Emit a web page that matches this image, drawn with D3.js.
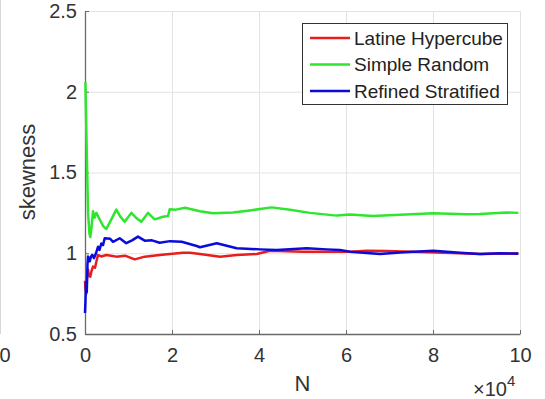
<!DOCTYPE html>
<html>
<head>
<meta charset="utf-8">
<script src="https://cdn.jsdelivr.net/npm/d3@7"></script>
<style>
  body { margin: 0; background: #fff; }
  svg { display: block; font-family: "Liberation Sans", Arial, sans-serif; }
</style>
</head>
<body>
<svg width="545" height="399"></svg>
<script>
// series (N, skewness)
var latinN   = [0,100,300,460,690,920,1220,1500,1840,2300,2640,2990,3750,4900,5980,7200,9200,11430,13720,17170,19540,22530,24140,26440,31040,34880,39470,42530,50190,56330,60920,64760,69360,77020,86210,90810,99620];
var latinSk  = [0.83,0.78,0.75,0.85,0.90,0.86,0.855,0.89,0.917,0.91,0.95,0.989,0.98,0.989,0.985,0.979,0.985,0.962,0.979,0.989,0.995,1.003,1.003,0.995,0.979,0.989,0.995,1.016,1.01,1.01,1.01,1.016,1.014,1.008,1.0,0.995,1.0];

var randomN  = [0,100,350,700,1030,1220,1500,1840,2180,2600,3370,4140,4900,6050,7200,8050,9120,10650,11720,12950,14480,16020,17930,19080,19470,20920,22990,26440,29430,34020,37930,42920,47130,51730,57860,60920,66210,72420,80010,87750,90810,96950,99620];
var randomSk = [2.06,2.05,1.70,1.25,1.12,1.10,1.16,1.26,1.22,1.25,1.21,1.17,1.15,1.21,1.27,1.23,1.195,1.25,1.22,1.195,1.25,1.21,1.226,1.231,1.272,1.27,1.282,1.26,1.247,1.252,1.265,1.284,1.27,1.25,1.233,1.24,1.231,1.238,1.247,1.241,1.243,1.252,1.25];

var stratN   = [0,100,230,410,570,690,1080,1380,1680,2070,2530,2990,3330,3750,4140,4530,5750,6440,7980,9490,10810,12180,13720,15400,17170,19540,22230,25680,26440,30280,34880,40230,44070,50970,55570,58620,60920,67820,72420,80080,86210,90810,95410,99620];
var stratSk  = [0.63,0.70,0.82,0.76,0.93,0.98,0.95,0.98,0.99,0.97,1.00,1.04,1.02,1.06,1.05,1.093,1.09,1.071,1.093,1.062,1.08,1.103,1.078,1.08,1.065,1.075,1.071,1.045,1.037,1.062,1.031,1.024,1.02,1.031,1.024,1.02,1.01,0.995,1.005,1.016,1.003,0.995,1.0,0.997];

var xTicks = [0,20000,40000,60000,80000,100000];
var yTicks = [0.5,1,1.5,2,2.5];
var legendNames = ['Latine Hypercube','Simple Random','Refined Stratified'];
var colors = ['#e81e1e','#2ee62e','#0a0adc'];

var svg = d3.select('svg');
var plotL = 85, plotR = 520, plotT = 11, plotB = 334;

var x = d3.scaleLinear().domain([0,100000]).range([plotL,plotR]);
var y = d3.scaleLinear().domain([0.5,2.5]).range([plotB,plotT]);

// faint edge of the neighbouring plot
svg.append('line').attr('x1',0.5).attr('x2',0.5).attr('y1',0).attr('y2',plotB)
    .attr('stroke','#d8d8d8');
svg.append('text').attr('x',5).attr('y',362).attr('text-anchor','middle')
    .attr('font-size',20).attr('fill','#333').text('0');

// grid
svg.append('g').attr('transform','translate(0,'+plotB+')')
    .call(d3.axisBottom(x).tickValues(xTicks.slice(1)).tickSize(-(plotB-plotT)).tickFormat(''))
    .call(function(g){ g.select('.domain').remove(); g.selectAll('line').attr('stroke','#e3e3e3'); });
svg.append('g').attr('transform','translate('+plotL+',0)')
    .call(d3.axisLeft(y).tickValues(yTicks.slice(1)).tickSize(-(plotR-plotL)).tickFormat(''))
    .call(function(g){ g.select('.domain').remove(); g.selectAll('line').attr('stroke','#e3e3e3'); });

// axes
var xAxis = svg.append('g').attr('transform','translate(0,'+plotB+')')
    .call(d3.axisBottom(x).tickValues(xTicks).tickSizeInner(-4).tickSizeOuter(0).tickPadding(14)
        .tickFormat(function(d){ return d/10000; }));
var yAxis = svg.append('g').attr('transform','translate('+plotL+',0)')
    .call(d3.axisLeft(y).tickValues(yTicks).tickSizeInner(-4).tickSizeOuter(0).tickPadding(8)
        .tickFormat(function(d){ return d; }));
[xAxis,yAxis].forEach(function(a){
    a.select('.domain').attr('stroke','#6a6a6a').attr('stroke-width',1.3);
    a.selectAll('line').attr('stroke','#6a6a6a');
    a.selectAll('text').attr('font-size',20).attr('fill','#333').attr('font-family','Liberation Sans, Arial, sans-serif');
});

// lines
var series = [[latinN,latinSk],[randomN,randomSk],[stratN,stratSk]];
var line = d3.line().x(function(d){ return x(d[0]); }).y(function(d){ return y(d[1]); });
series.forEach(function(s,i){
    var pts = s[0].map(function(n,j){ return [n, s[1][j]]; });
    svg.append('path').datum(pts).attr('d',line)
        .attr('fill','none').attr('stroke',colors[i]).attr('stroke-width',2.5)
        .attr('stroke-linejoin','round');
});

// labels
svg.append('text').attr('transform','translate(35,172) rotate(-90)').attr('text-anchor','middle')
    .attr('font-size',22).attr('fill','#333').text('skewness');
svg.append('text').attr('x',(plotL+plotR)/2).attr('y',391).attr('text-anchor','middle')
    .attr('font-size',22).attr('fill','#333').text('N');
var ex = svg.append('text').attr('x',473).attr('y',396).attr('font-size',20).attr('fill','#333');
ex.append('tspan').text('\u00d710');
ex.append('tspan').attr('dy',-10).attr('font-size',15).text('4');

// legend
var lg = svg.append('g');
lg.append('rect').attr('x',302.5).attr('y',23.5).attr('width',205).attr('height',81)
    .attr('fill','#fff').attr('stroke','#333').attr('stroke-width',1);
legendNames.forEach(function(name,i){
    var cy = 38 + i*26.5;
    lg.append('line').attr('x1',310).attr('x2',350).attr('y1',cy).attr('y2',cy)
        .attr('stroke',colors[i]).attr('stroke-width',2.5);
    lg.append('text').attr('x',354).attr('y',cy+6.5).attr('font-size',19).attr('fill','#222').text(name);
});
</script>
</body>
</html>
